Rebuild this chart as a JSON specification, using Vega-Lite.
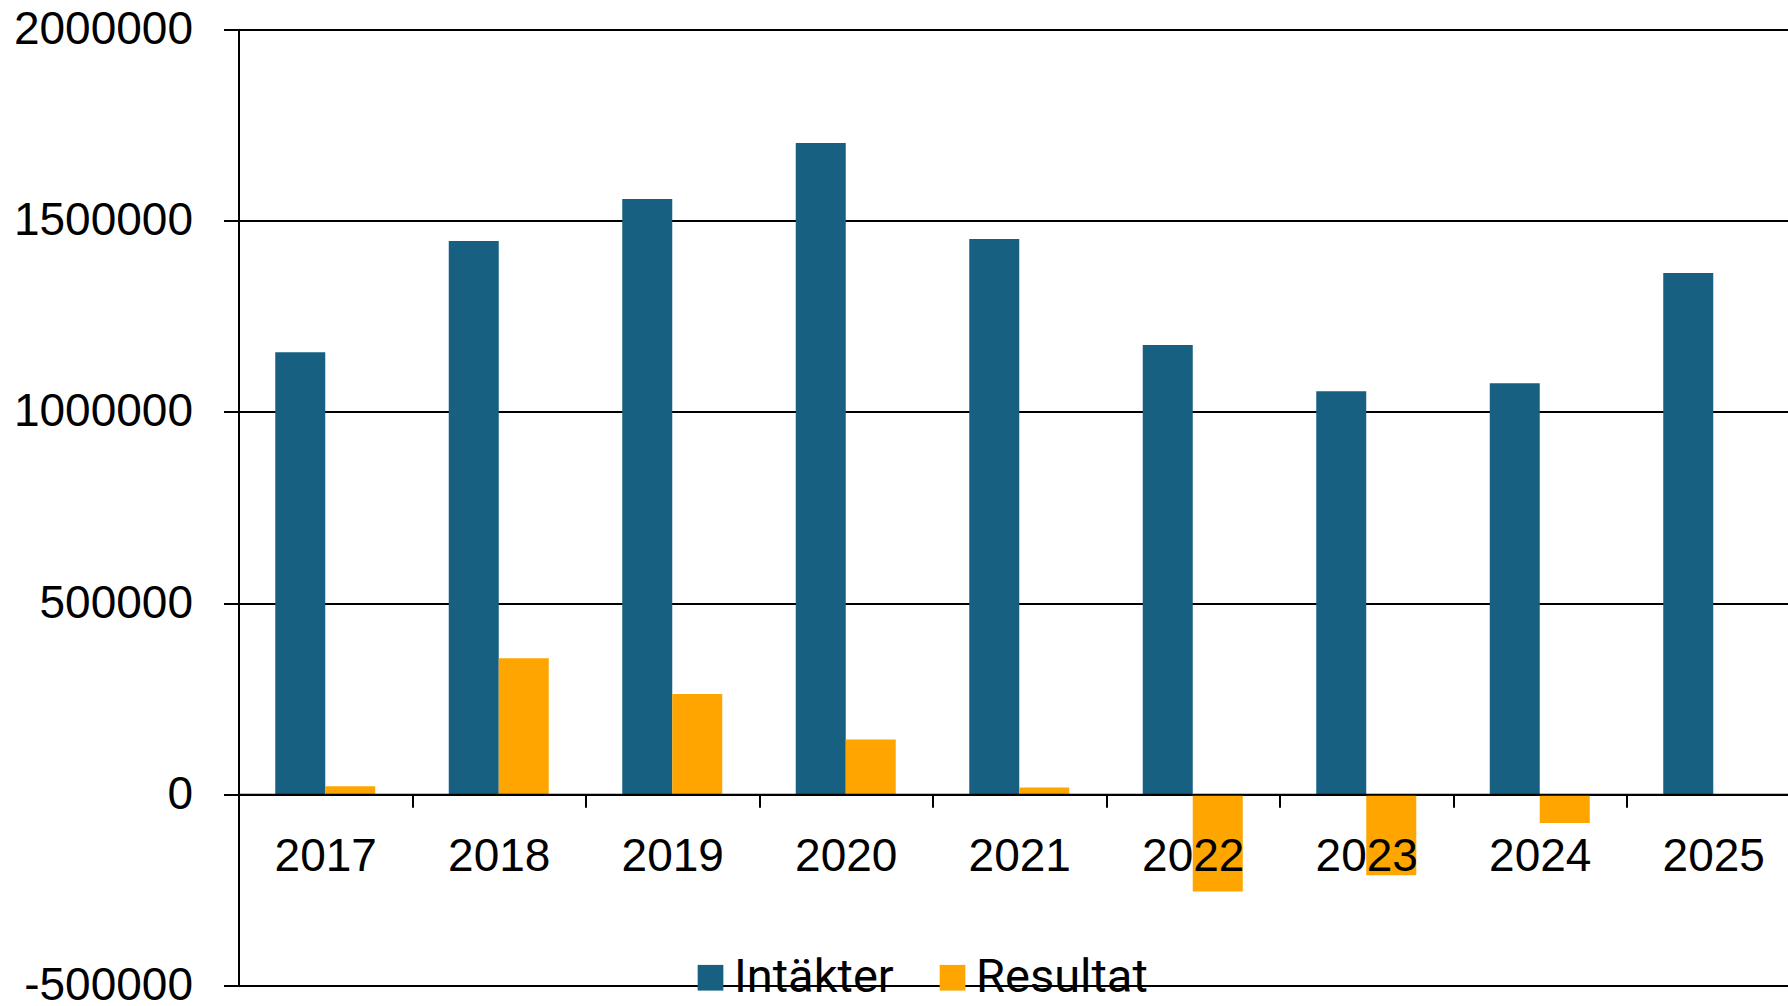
{
  "$schema": "https://vega.github.io/schema/vega-lite/v6.json",
  "width": 1549.5,
  "height": 956,
  "autosize": {"type": "none"},
  "padding": {"left": 238.5, "top": 29.5, "right": 0, "bottom": 20.5},
  "background": "white",
  "config": {"view": {"stroke": null}},
  "data": {
    "values": [
      {"year": "2017", "series": "Intäkter", "value": 1156000},
      {"year": "2017", "series": "Resultat", "value": 21000},
      {"year": "2018", "series": "Intäkter", "value": 1447000},
      {"year": "2018", "series": "Resultat", "value": 356000},
      {"year": "2019", "series": "Intäkter", "value": 1557000},
      {"year": "2019", "series": "Resultat", "value": 262000},
      {"year": "2020", "series": "Intäkter", "value": 1703000},
      {"year": "2020", "series": "Resultat", "value": 143000},
      {"year": "2021", "series": "Intäkter", "value": 1452000},
      {"year": "2021", "series": "Resultat", "value": 18000},
      {"year": "2022", "series": "Intäkter", "value": 1175000},
      {"year": "2022", "series": "Resultat", "value": -254000},
      {"year": "2023", "series": "Intäkter", "value": 1054000},
      {"year": "2023", "series": "Resultat", "value": -212000},
      {"year": "2024", "series": "Intäkter", "value": 1075000},
      {"year": "2024", "series": "Resultat", "value": -75000},
      {"year": "2025", "series": "Intäkter", "value": 1363000}
    ]
  },
  "mark": {"type": "bar"},
  "encoding": {
    "x": {
      "field": "year",
      "type": "nominal",
      "scale": {"paddingInner": 0, "paddingOuter": 0, "range": [0, 1561.5]},
      "axis": {
        "title": null,
        "orient": "bottom",
        "offset": -191.2,
        "tickBand": "extent",
        "zindex": 1,
        "domainColor": "black",
        "domainWidth": 2,
        "tickColor": "black",
        "tickSize": 13,
        "tickWidth": 2,
        "labelFont": "Liberation Sans",
        "labelFontSize": 46,
        "labelColor": "black",
        "labelPadding": 27,
        "labelAngle": 0,
        "grid": false
      }
    },
    "xOffset": {
      "field": "series",
      "type": "nominal",
      "sort": ["Intäkter", "Resultat"],
      "scale": {"domain": ["Intäkter", "Resultat"], "paddingInner": 0, "paddingOuter": 0.735}
    },
    "y": {
      "field": "value",
      "type": "quantitative",
      "scale": {"domain": [-500000, 2000000], "nice": false, "zero": false},
      "axis": {
        "title": null,
        "values": [-500000, 0, 500000, 1000000, 1500000, 2000000],
        "labelExpr": "datum.value < 0 ? '-' + format(-datum.value, 'd') : format(datum.value, 'd')",
        "grid": true,
        "gridColor": "black",
        "gridWidth": 2,
        "gridOpacity": 1,
        "domainColor": "black",
        "domainWidth": 2,
        "tickColor": "black",
        "tickSize": 15,
        "tickWidth": 2,
        "labelFont": "Liberation Sans",
        "labelFontSize": 46,
        "labelColor": "black",
        "labelPadding": 31
      }
    },
    "color": {
      "field": "series",
      "type": "nominal",
      "scale": {"domain": ["Intäkter", "Resultat"], "range": ["#176082", "#FFA500"]},
      "legend": {
        "orient": "none",
        "legendX": 448.5,
        "legendY": 924.5,
        "direction": "horizontal",
        "title": null,
        "symbolType": "square",
        "symbolSize": 660,
        "symbolStrokeWidth": 0,
        "symbolOpacity": 1,
        "labelFont": "Roboto",
        "labelFontSize": 47,
        "labelColor": "black",
        "labelLimit": 500,
        "labelOffset": 0,
        "columnPadding": 35,
        "padding": 0
      }
    }
  }
}
